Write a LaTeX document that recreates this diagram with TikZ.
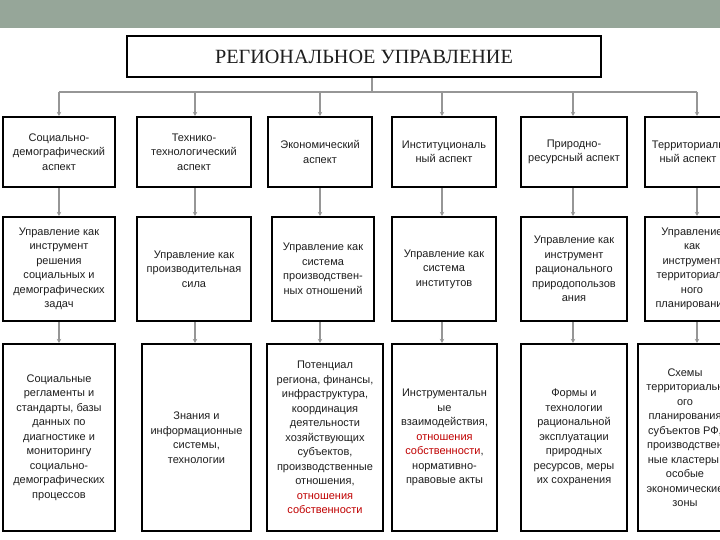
\documentclass[tikz,border=0pt]{standalone}
\usepackage{fontspec}
\setmainfont{Liberation Sans}
\newfontfamily\titlefont{Liberation Serif}
\usetikzlibrary{arrows.meta}
\definecolor{bandc}{RGB}{150,166,153}
\definecolor{connc}{RGB}{150,150,150}
\definecolor{redt}{RGB}{192,0,0}
\definecolor{txt}{RGB}{30,30,30}
\begin{document}
\begin{tikzpicture}[x=1pt,y=-1pt,
  box/.style={draw=black,line width=2.2pt,inner sep=0pt,align=center,text=txt,
    font=\fontsize{11}{14.5}\selectfont},
  bus/.style={draw=connc,line width=1.6pt},
  arr/.style={draw=connc,line width=1.6pt,-{Stealth[length=4pt,width=4.5pt]}}]
\useasboundingbox (0,0) rectangle (720,540);
\clip (0,0) rectangle (720,540);
\fill[white] (0,0) rectangle (720,540);
\fill[bandc] (0,0) rectangle (720,28);

% title
\node[box, minimum width=474pt, minimum height=41pt,
  font=\titlefont\fontsize{20.2}{22}\selectfont] (title) at (364,56.5) {РЕГИОНАЛЬНОЕ УПРАВЛЕНИЕ};

% row 1
\node[box, minimum width=112pt, minimum height=70pt] (a1) at (59,152) {Социально-\\демографический\\аспект};
\node[box, minimum width=114pt, minimum height=70pt] (a2) at (194,152) {Технико-\\технологический\\аспект};
\node[box, minimum width=104pt, minimum height=70pt] (a3) at (320,152) {Экономический\\аспект};
\node[box, minimum width=104pt, minimum height=70pt] (a4) at (444,152) {Институциональ\\ный аспект};
\node[box, minimum width=106pt, minimum height=70pt] (a5) at (574,152) {Природно-\\ресурсный аспект};
\node[box, minimum width=86pt, minimum height=70pt] (a6) at (688,152) {Территориаль\\ный аспект};

% row 2
\node[box, minimum width=112pt, minimum height=104pt] (b1) at (59,269) {Управление как\\инструмент\\решения\\социальных и\\демографических\\задач};
\node[box, minimum width=114pt, minimum height=104pt] (b2) at (194,269) {Управление как\\производительная\\сила};
\node[box, minimum width=102pt, minimum height=104pt] (b3) at (323,269) {Управление как\\система\\производствен-\\ных отношений};
\node[box, minimum width=104pt, minimum height=104pt] (b4) at (444,269) {Управление как\\система\\институтов};
\node[box, minimum width=106pt, minimum height=104pt] (b5) at (574,269) {Управление как\\инструмент\\рационального\\природопользов\\ания};
\node[box, minimum width=94pt, minimum height=104pt] (b6) at (692,269) {Управление\\как\\инструмент\\территориаль\\ного\\планирования};

% row 3
\node[box, minimum width=112pt, minimum height=187pt] (c1) at (59,437.5) {Социальные\\регламенты и\\стандарты, базы\\данных по\\диагностике и\\мониторингу\\социально-\\демографических\\процессов};
\node[box, minimum width=109pt, minimum height=187pt] (c2) at (196.5,437.5) {Знания и\\информационные\\системы,\\технологии};
\node[box, minimum width=116pt, minimum height=187pt] (c3) at (325,437.5) {Потенциал\\региона, финансы,\\инфраструктура,\\координация\\деятельности\\хозяйствующих\\субъектов,\\производственные\\отношения,\\\textcolor{redt}{отношения}\\\textcolor{redt}{собственности}};
\node[box, minimum width=105pt, minimum height=187pt] (c4) at (444.5,437.5) {Инструментальн\\ые\\взаимодействия,\\\textcolor{redt}{отношения}\\\textcolor{redt}{собственности},\\нормативно-\\правовые акты};
\node[box, minimum width=106pt, minimum height=187pt] (c5) at (574,437.5) {Формы и\\технологии\\рациональной\\эксплуатации\\природных\\ресурсов, меры\\их сохранения};
\node[box, minimum width=94pt, minimum height=187pt] (c6) at (685,437.5) {Схемы\\территориальн\\ого\\планирования\\субъектов РФ,\\производствен\\ные кластеры,\\особые\\экономические\\зоны};

% bus
\coordinate (j) at (372,92);
\coordinate (x1) at (59,92);
\coordinate (x2) at (195,92);
\coordinate (x3) at (320,92);
\coordinate (x4) at (442,92);
\coordinate (x5) at (573,92);
\coordinate (x6) at (697,92);
\draw[bus] (title.south -| j) -- (j);
\draw[bus] (x1) -- (x6);
\foreach \i in {1,...,6}{
  \draw[arr] (x\i) -- (a\i.north -| x\i);
}
\draw[arr] (a1.south -| x1) -- (b1.north -| x1);
\draw[arr] (a2.south -| x2) -- (b2.north -| x2);
\draw[arr] (a3.south -| x3) -- (b3.north -| x3);
\draw[arr] (a4.south -| x4) -- (b4.north -| x4);
\draw[arr] (a5.south -| x5) -- (b5.north -| x5);
\draw[arr] (a6.south -| x6) -- (b6.north -| x6);
\draw[arr] (b1.south -| x1) -- (c1.north -| x1);
\draw[arr] (b2.south -| x2) -- (c2.north -| x2);
\draw[arr] (b3.south -| x3) -- (c3.north -| x3);
\draw[arr] (b4.south -| x4) -- (c4.north -| x4);
\draw[arr] (b5.south -| x5) -- (c5.north -| x5);
\draw[arr] (b6.south -| x6) -- (c6.north -| x6);
\end{tikzpicture}
\end{document}
